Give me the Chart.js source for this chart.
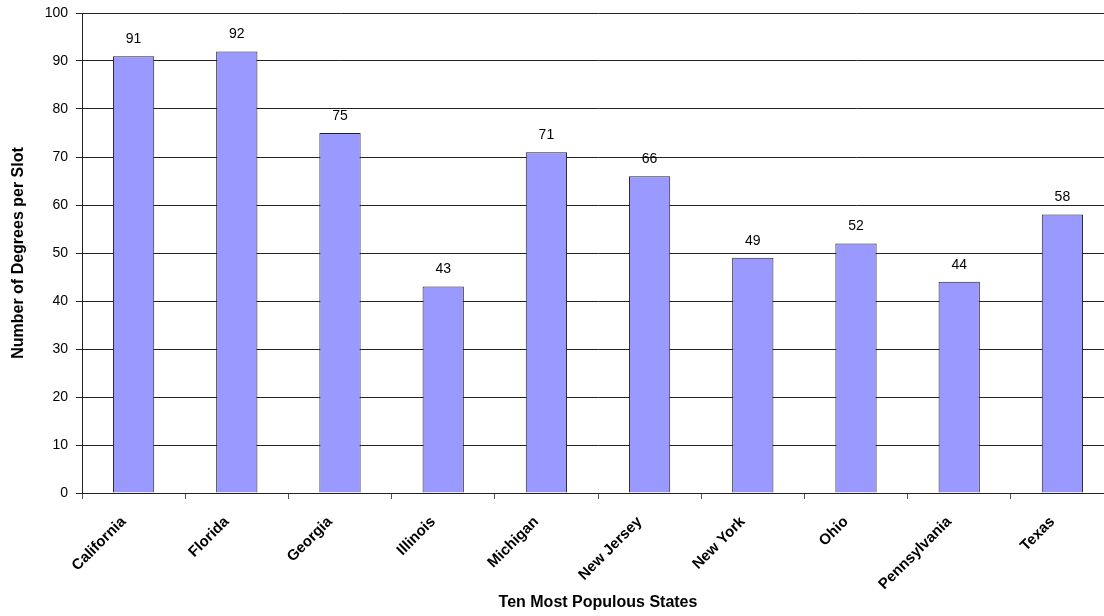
<!DOCTYPE html>
<html>
<head>
<meta charset="utf-8">
<script src="https://cdn.jsdelivr.net/npm/chart.js@4.4.1/dist/chart.umd.min.js"></script>
<style>
  html, body { margin: 0; padding: 0; background: #fff; overflow: hidden; }
  #wrap { position: relative; width: 1114px; height: 616px; }
</style>
</head>
<body>
<div id="wrap"><canvas id="grados"></canvas></div>
<script>
// Estados y grados por slot
const states  = ["California", "Florida", "Georgia", "Illinois", "Michigan",
                 "New Jersey", "New York", "Ohio", "Pennsylvania", "Texas"];
const degrees = [91, 92, 75, 43, 71, 66, 49, 52, 44, 58];
const yTicks  = [0, 10, 20, 30, 40, 50, 60, 70, 80, 90, 100];

const FONT = "'Liberation Sans', Arial, sans-serif";

// etiqueta de valor encima de cada barra
const valueLabels = {
  id: "valueLabels",
  afterDatasetsDraw(chart){
    const ctx = chart.ctx;
    const meta = chart.getDatasetMeta(0);
    ctx.save();
    ctx.font = "14px " + FONT;
    ctx.fillStyle = "#000";
    ctx.textAlign = "center";
    ctx.textBaseline = "bottom";
    meta.data.forEach((bar, i) => {
      ctx.fillText(String(degrees[i]), bar.x, bar.y - 10);
    });
    ctx.restore();
  }
};

new Chart(document.getElementById("grados"), {
  type: "bar",
  data: {
    labels: states,
    datasets: [{
      data: degrees,
      backgroundColor: "#9999ff",
      borderColor: "#222",
      borderWidth: 1,
      barPercentage: 0.4,
      categoryPercentage: 1
    }]
  },
  options: {
    responsive: true,
    maintainAspectRatio: false,
    animation: false,
    layout: { padding: { top: 13, right: 0, left: 9, bottom: 4 } },
    plugins: {
      legend: { display: false },
      tooltip: { enabled: false }
    },
    scales: {
      x: {
        offset: true,
        afterFit: (axis) => { axis.height = 119; },
        grid: { offset: true, display: true, drawOnChartArea: false, color: "#555", tickLength: 6 },
        border: { color: "#222", width: 1 },
        ticks: {
          color: "#000",
          font: { family: FONT, size: 15, weight: "bold" },
          minRotation: 45,
          maxRotation: 45,
          autoSkip: false,
          padding: 14,
          labelOffset: -10
        },
        title: {
          display: true,
          text: "Ten Most Populous States",
          color: "#000",
          font: { family: FONT, size: 16, weight: "bold" },
          padding: { top: 0, bottom: 0 }
        }
      },
      y: {
        min: 0,
        max: 100,
        afterBuildTicks: (axis) => { axis.ticks = yTicks.map(v => ({ value: v })); },
        afterFit: (axis) => {
          axis.width = 73;
          axis.paddingTop = 0;
          axis.paddingBottom = 0;
        },
        grid: { color: "#222", tickLength: 6 },
        border: { color: "#222", width: 1 },
        ticks: {
          color: "#000",
          font: { family: FONT, size: 14 },
          padding: 8
        },
        title: {
          display: true,
          text: "Number of Degrees per Slot",
          color: "#000",
          font: { family: FONT, size: 16, weight: "bold" },
          padding: { top: 0, bottom: 4 }
        }
      }
    }
  },
  plugins: [valueLabels]
});
</script>
</body>
</html>
